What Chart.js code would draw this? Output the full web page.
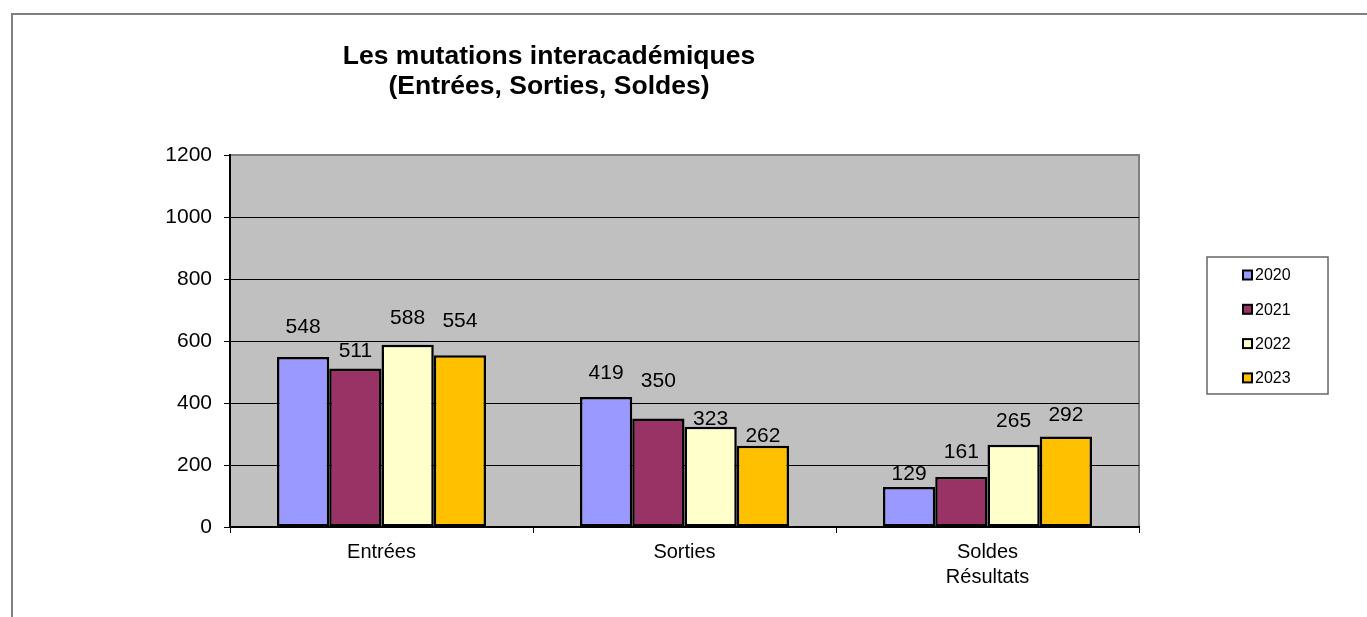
<!DOCTYPE html>
<html>
<head>
<meta charset="utf-8">
<script src="https://cdn.jsdelivr.net/npm/chart.js@4/dist/chart.umd.min.js"></script>
<style>
  html, body { margin: 0; padding: 0; background: #fff; }
  #wrap { position: relative; width: 1367px; height: 617px; }
</style>
</head>
<body>
<div id="wrap"><canvas id="c"></canvas></div>
<script>
// ---- data ----
const categories = ["Entrées", "Sorties", ["Soldes", "Résultats"]];
const years = ["2020", "2021", "2022", "2023"];
const values2020 = [548, 419, 129];
const values2021 = [511, 350, 161];
const values2022 = [588, 323, 265];
const values2023 = [554, 262, 292];
const yTicks = [0, 200, 400, 600, 800, 1000, 1200];
const titleLines = ["Les mutations interacadémiques", "(Entrées, Sorties, Soldes)"];

// ---- style ----
const colors = ["#9999FF", "#993366", "#FFFFCC", "#FFC000"];
// vertical lift (px) of each value label above its bar top, as placed in the original
const labelLift = [[30, 24, 13], [17, 37, 25], [27, 8, 24], [34, 10, 21]];
const FONT = "'Liberation Sans', Arial, sans-serif";

const seriesValues = [values2020, values2021, values2022, values2023];

const framePlugin = {
  id: 'frame',
  beforeDraw(chart) {
    const { ctx, chartArea: a } = chart;
    ctx.save();
    ctx.fillStyle = '#fff';
    ctx.fillRect(0, 0, chart.width, chart.height);
    // outer border (top and left)
    ctx.strokeStyle = '#808080';
    ctx.lineWidth = 2;
    ctx.beginPath();
    ctx.moveTo(12, chart.height);
    ctx.lineTo(12, 14);
    ctx.lineTo(chart.width, 14);
    ctx.stroke();
    // plot area
    ctx.fillStyle = '#C0C0C0';
    ctx.fillRect(a.left, a.top, a.right - a.left, a.bottom - a.top);
    ctx.strokeStyle = '#808080';
    ctx.lineWidth = 2;
    ctx.beginPath();
    ctx.moveTo(a.left, a.top);
    ctx.lineTo(a.right, a.top);
    ctx.lineTo(a.right, a.bottom);
    ctx.stroke();
    // title
    ctx.fillStyle = '#000';
    ctx.font = "bold 26.5px " + FONT;
    ctx.textAlign = 'center';
    ctx.textBaseline = 'alphabetic';
    ctx.fillText(titleLines[0], 549, 64);
    ctx.fillText(titleLines[1], 549, 94);
    ctx.restore();
  },
  afterDatasetsDraw(chart) {
    const { ctx } = chart;
    ctx.save();
    ctx.font = "21px " + FONT;
    ctx.fillStyle = '#000';
    ctx.textAlign = 'center';
    ctx.textBaseline = 'middle';
    chart.data.datasets.forEach((ds, di) => {
      const meta = chart.getDatasetMeta(di);
      meta.data.forEach((el, i) => {
        ctx.fillText(String(ds.data[i]), el.x, el.y - labelLift[di][i]);
      });
    });
    // legend
    const lx = 1207, ly = 257, lw = 121, lh = 137;
    ctx.strokeStyle = '#666';
    ctx.lineWidth = 1.5;
    ctx.strokeRect(lx, ly, lw, lh);
    ctx.font = "16px " + FONT;
    ctx.textAlign = 'left';
    chart.data.datasets.forEach((ds, di) => {
      const cy = 275 + di * 34.3;
      ctx.fillStyle = ds.backgroundColor;
      ctx.fillRect(1243, cy - 4.5, 9, 9);
      ctx.strokeStyle = '#000';
      ctx.lineWidth = 2;
      ctx.strokeRect(1243, cy - 4.5, 9, 9);
      ctx.fillStyle = '#000';
      ctx.fillText(ds.label, 1255, cy + 1);
    });
    ctx.restore();
  }
};

new Chart(document.getElementById('c'), {
  type: 'bar',
  data: {
    labels: categories,
    datasets: years.map((y, i) => ({
      label: y,
      data: seriesValues[i],
      backgroundColor: colors[i],
      borderColor: '#000',
      borderWidth: 2.5,
      borderSkipped: false,
      categoryPercentage: 0.69,
      barPercentage: 1.0
    }))
  },
  options: {
    responsive: true,
    maintainAspectRatio: false,
    animation: false,
    devicePixelRatio: 1,
    layout: { padding: { left: 0, top: 155, right: 228, bottom: 0 } },
    plugins: {
      legend: { display: false },
      title: { display: false },
      tooltip: { enabled: false }
    },
    scales: {
      x: {
        offset: true,
        grid: { offset: true, drawOnChartArea: false, color: '#000', tickLength: 6, lineWidth: 1 },
        border: { color: '#000', width: 2 },
        ticks: { color: '#000', font: { family: FONT, size: 20, lineHeight: 1.25 }, padding: 7, maxRotation: 0 },
        afterFit(s) { s.height = 90; }
      },
      y: {
        min: 0, max: 1200,
        afterBuildTicks(s) { s.ticks = yTicks.map(v => ({ value: v })); },
        grid: {
          color: ctx => (ctx.tick && ctx.tick.value === 1200) ? 'rgba(0,0,0,0)' : '#000',
          tickColor: '#000',
          tickLength: 6,
          lineWidth: 1
        },
        border: { color: '#000', width: 2 },
        ticks: { color: '#000', font: { family: FONT, size: 21 }, padding: 12, callback: v => String(v) },
        afterFit(s) { s.width = 230; }
      }
    }
  },
  plugins: [framePlugin]
});
</script>
</body>
</html>
